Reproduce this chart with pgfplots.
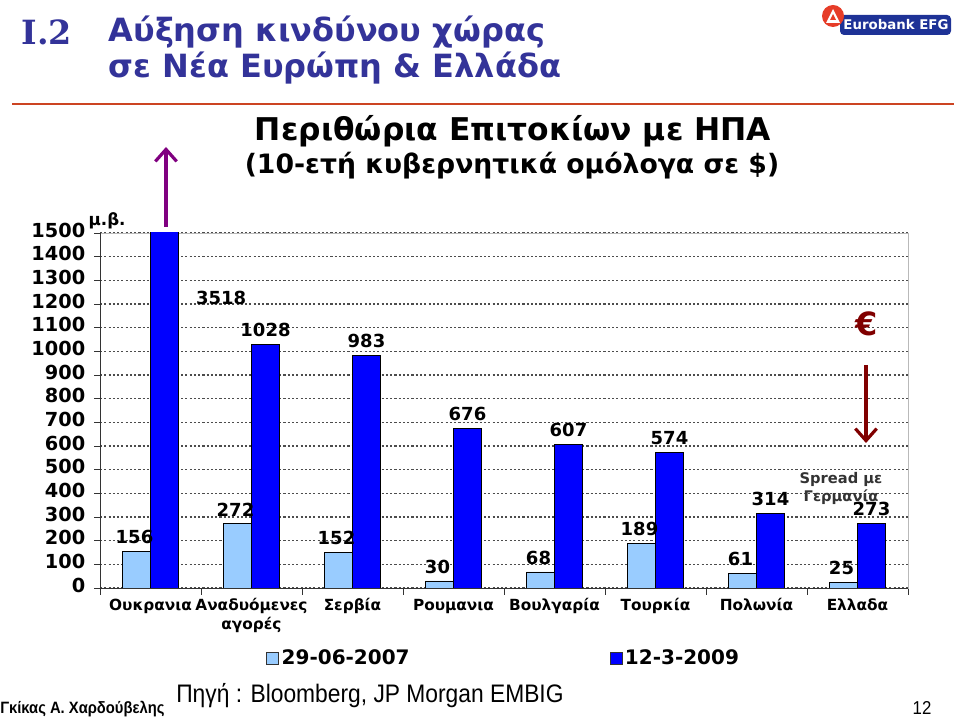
\documentclass[border=0pt]{standalone}
\usepackage{fontspec}
\setmainfont{DejaVu Sans}
\newfontfamily\narrowfont{Liberation Sans}[FakeStretch=0.9]
\newfontfamily\slabfont{DejaVu Serif}
\usepackage{pgfplots}
\pgfplotsset{compat=1.18}
\usetikzlibrary{arrows.meta}
\definecolor{lightbar}{RGB}{153,204,255}
\definecolor{darkbar}{RGB}{0,0,255}
\definecolor{titleblue}{RGB}{51,51,153}
\definecolor{lineorange}{RGB}{204,68,34}
\definecolor{darkred}{RGB}{128,0,0}
\definecolor{purplearrow}{RGB}{128,0,128}
\definecolor{logoblue}{RGB}{30,50,150}
\definecolor{logored}{RGB}{230,60,40}
\begin{document}
\begin{tikzpicture}
\path[use as bounding box] (0,0) rectangle (720pt,538.5pt);
\begin{axis}[
  at={(75pt,97.5pt)}, anchor=south west,
  scale only axis, width=606pt, height=266.25pt,
  xmin=-0.5, xmax=7.5, ymin=0, ymax=1500,
  ybar=0pt, bar width=21pt,
  /pgf/number format/assume math mode=true,
  /pgf/number format/1000 sep={},
  axis line style={draw=gray!55},
  ytick={0,100,...,1500},
  ytick pos=left, xtick pos=left,
  tick align=outside,
  major tick length=4.5pt, minor tick length=5pt,
  yticklabel style={font=\bfseries\fontsize{14.5}{15}\selectfont, xshift=-3pt},
  xtick={0,...,7},
  minor xtick={-0.5,0.5,...,7.5},
  major x tick style={draw=none},
  minor x tick style={draw=black!80, line width=0.6pt},
  major y tick style={draw=black!80, line width=0.6pt},
  typeset ticklabels with strut,
  xticklabels={Ουκρανια,{Αναδυόμενες\\αγορές},Σερβία,Ρουμανια,Βουλγαρία,Τουρκία,Πολωνία,Ελλαδα},
  xticklabel style={font=\bfseries\fontsize{11.5}{14}\selectfont, align=center, anchor=north, yshift=1pt},
  ymajorgrids,
  major grid style={dash pattern=on 1.6pt off 1.6pt, line width=0.8pt, black!70},
  legend columns=2,
  legend style={at={(0.5,-0.197)}, anchor=center, draw=none, fill=none,
    font=\bfseries\fontsize{15}{17}\selectfont,
    /tikz/every even column/.append style={column sep=148pt}},
  nodes near coords style={font=\bfseries\fontsize{13.5}{14}\selectfont, text=black, inner sep=1.5pt, anchor=south, yshift=4pt},
]
\addplot[fill=lightbar, draw=black, line width=0.6pt,
  legend image code/.code={\draw[fill=lightbar,draw=black!80,line width=0.5pt] (0pt,-4.5pt) rectangle (9pt,4.5pt);}]
  coordinates {(0,156) (1,272) (2,152) (3,30) (4,68) (5,189) (6,61) (7,25)};
\addlegendentry{29-06-2007}
\addplot[fill=darkbar, draw=black, line width=0.6pt,
  legend image code/.code={\draw[fill=darkbar,draw=black!80,line width=0.5pt] (0pt,-4.5pt) rectangle (9pt,4.5pt);},
  point meta=explicit symbolic, nodes near coords]
  coordinates {(0,3518)[\relax] (1,1028)[1028] (2,983)[983] (3,676)[676] (4,607)[607] (5,574)[574] (6,314)[314] (7,273)[273]};
\addlegendentry{12-3-2009}
% labels of the first series, drawn on top of the bars
\addplot[draw=none, fill=none, forget plot, bar shift=-12pt, nodes near coords]
  coordinates {(0,156) (1,272) (2,152) (3,30) (4,68) (5,189) (6,61) (7,25)};
\draw[black!80, line width=0.7pt] (rel axis cs:0,1) -- (rel axis cs:0,0) -- (rel axis cs:1,0);
\node[font=\bfseries\fontsize{13.5}{14}\selectfont] at (axis cs:0.7,1225) {3518};
\end{axis}
\begin{scope}[x=0.75pt,y=0.75pt]
  % header
  \node[anchor=west, text=titleblue, font=\slabfont\bfseries\fontsize{25}{27}\selectfont] at (17,686) {I.2};
  \node[anchor=west, text=titleblue, font=\bfseries\fontsize{24}{26}\selectfont] at (104,686) {Αύξηση κινδύνου χώρας};
  \node[anchor=west, text=titleblue, font=\bfseries\fontsize{24}{26}\selectfont] at (104,650) {σε Νέα Ευρώπη \& Ελλάδα};
  \draw[lineorange, line width=2.2pt] (12,614) -- (954,614);
  % logo
  \fill[logoblue, rounded corners=3pt] (840,683) rectangle (951,703);
  \node[text=white, font=\bfseries\fontsize{10}{11}\selectfont, anchor=center] at (896,693) {Eurobank EFG};
  \fill[logored] (833,702) circle (11);
  \fill[white] (826,695) -- (833,709) -- (840,695) -- cycle;
  \fill[logored] (830,698) -- (833,704) -- (836,698) -- cycle;
  % chart titles
  \node[font=\bfseries\fontsize{23.5}{25}\selectfont] at (513,587) {Περιθώρια Επιτοκίων με ΗΠΑ};
  \node[font=\bfseries\fontsize{20}{22}\selectfont] at (512,552) {(10-ετή κυβερνητικά ομόλογα σε \$)};
  % arrows and annotations
  \draw[purplearrow, line width=2.4pt, -{Straight Barb[length=9pt,width=16pt]}] (166,491) -- (166,571);
  \node[anchor=west, font=\bfseries\fontsize{12.5}{13}\selectfont] at (84,497) {μ.β.};
  \node[text=darkred, font=\bfseries\fontsize{24}{26}\selectfont] at (867,394) {€};
  \draw[darkred, line width=2.4pt, -{Straight Barb[length=9pt,width=16pt]}] (866,353) -- (866,275);
  \node[text=black!80, font=\bfseries\fontsize{11}{12}\selectfont] at (841,239) {Spread με};
  \node[text=black!80, font=\bfseries\fontsize{11}{12}\selectfont] at (841,221) {Γερμανία};
  % footer
  \node[anchor=west, inner sep=0pt, font=\narrowfont\bfseries\fontsize{12.3}{13}\selectfont] at (0,9) {Γκίκας Α. Χαρδούβελης};
  \node[anchor=west, inner sep=0pt, font=\narrowfont\fontsize{19}{20}\selectfont] at (176,22) {Πηγή : Bloomberg, JP Morgan EMBIG};
  \node[inner sep=0pt, font=\narrowfont\fontsize{14}{15}\selectfont] at (922,10) {12};
\end{scope}
\end{tikzpicture}
\end{document}
